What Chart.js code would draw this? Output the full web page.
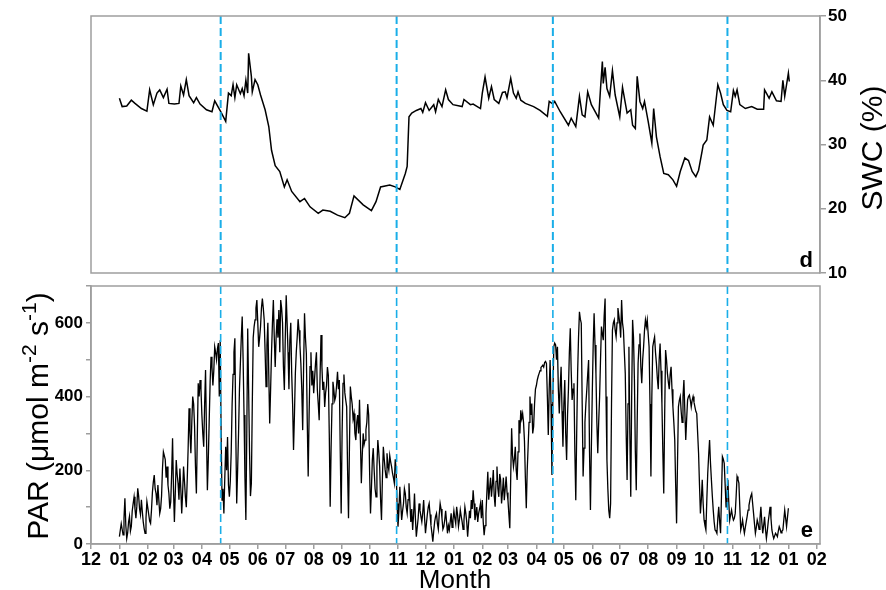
<!DOCTYPE html>
<html>
<head>
<meta charset="utf-8">
<script src="https://cdn.jsdelivr.net/npm/chart.js@4.4.0/dist/chart.umd.min.js"></script>
<style>
  html, body { margin: 0; padding: 0; background: #fff; }
  #wrap { position: relative; width: 886px; height: 590px; }
  #wrap canvas { position: absolute; left: 0; top: 0; }
</style>
</head>
<body>
<div id="wrap">
  <canvas id="swcChart" width="886" height="590"></canvas>
  <canvas id="parChart" width="886" height="590"></canvas>
</div>
<script>
// x values are days counted from 1 December of the year before the record starts

// month ticks along the shared time axis
const monthStarts = [0, 31, 62, 90, 121, 151, 182, 212, 243, 274, 304, 335, 365,
  396, 427, 455, 486, 516, 547, 577, 608, 639, 669, 700, 730, 761, 792];
const monthLabels = ['12', '01', '02', '03', '04', '05', '06', '07', '08', '09', '10', '11', '12',
  '01', '02', '03', '04', '05', '06', '07', '08', '09', '10', '11', '12', '01', '02'];

// start / end of the growing seasons (dashed markers)
const seasonDays = [141.5, 333.5, 504, 694.5];

// soil water content (%)
const swcDays = [31, 34, 39, 44, 48, 55, 61, 64, 68, 72, 75, 79, 83, 85, 91, 96, 98, 101, 104, 107,
  112, 115, 119, 126, 132, 135, 142, 147, 150, 153, 155, 157, 159, 163, 165, 167, 169, 171, 172, 175,
  176, 179, 182, 185, 190, 194, 197, 201, 206, 211, 214, 219, 228, 233, 239, 248, 253, 261, 269, 277,
  282, 287, 297, 306, 311, 316, 326, 332, 337, 343, 345, 347, 350, 355, 360, 362, 365, 369, 374, 376,
  379, 383, 387, 390, 395, 405, 407, 414, 417, 425, 427, 430, 434, 437, 440, 445, 449, 452, 454, 458,
  461, 464, 466, 469, 474, 483, 490, 498, 500, 504, 506, 512, 521, 524, 529, 533, 536, 539, 542, 546,
  554, 556, 558, 559, 561, 563, 566, 569, 572, 577, 580, 585, 589, 591, 594, 596, 599, 602, 604, 608,
  612, 614, 617, 621, 625, 630, 635, 639, 643, 648, 652, 656, 660, 663, 667, 668, 672, 675, 679, 684,
  687, 690, 694, 698, 701, 703, 705, 708, 714, 721, 727, 734, 735, 737, 740, 743, 748, 753, 755, 757,
  761, 762];
const swcValues = [37.2, 35.9, 36.0, 36.9, 36.4, 35.6, 35.2, 38.5, 36.2, 38.0, 38.5, 37.3, 38.6, 36.4, 36.3, 36.4, 39.1, 37.7, 40.1, 37.6,
  36.5, 37.3, 36.3, 35.4, 35.1, 36.8, 35.0, 33.6, 38.0, 37.6, 39.3, 37.3, 39.3, 37.9, 38.7, 37.6, 40.0, 38.0, 44.2, 40.6,
  38.2, 40.1, 39.3, 37.7, 35.4, 32.8, 29.1, 26.7, 25.8, 23.4, 24.5, 22.7, 21.1, 21.6, 20.3, 19.3, 19.8, 19.6, 19.0, 18.6,
  19.3, 22.0, 20.6, 19.7, 21.1, 23.4, 23.7, 23.4, 23.0, 25.5, 26.6, 34.3, 34.9, 35.3, 35.6, 35.0, 36.5, 35.3, 36.2, 35.1,
  37.0, 35.9, 38.5, 37.0, 36.2, 35.9, 37.0, 36.2, 36.3, 35.6, 38.0, 40.5, 37.2, 39.0, 37.0, 36.4, 38.1, 38.2, 37.3, 40.3,
  38.0, 37.2, 38.2, 36.9, 36.4, 35.9, 35.3, 34.4, 36.7, 36.3, 36.7, 35.1, 33.0, 34.1, 32.8, 37.5, 34.6, 34.3, 38.2, 36.2,
  34.1, 38.7, 42.9, 39.5, 42.0, 38.7, 37.5, 41.5, 37.7, 34.3, 38.9, 34.9, 35.4, 33.0, 32.5, 40.6, 36.7, 35.6, 36.7, 33.6,
  30.2, 35.6, 31.2, 28.1, 25.5, 25.3, 24.5, 23.5, 25.8, 27.9, 27.5, 25.8, 25.0, 26.0, 29.1, 29.9, 30.7, 34.3, 33.0, 39.3,
  38.0, 36.2, 35.3, 35.1, 38.4, 37.5, 38.5, 36.2, 35.6, 35.9, 35.5, 35.5, 38.5, 38.0, 37.2, 38.2, 36.8, 36.7, 40.0, 37.5,
  41.1, 39.8];

// photosynthetically active radiation, daily values
const parStartDay = 31;
const parStep = 1;
const parValues = [
  // first year
  20, 38, 55, 40, 25, 70, 124, 50, 15, 30, 60, 75, 35, 48, 90, 110, 128, 95, 70, 102,
  151, 130, 95, 80, 120, 88, 60, 42, 29, 70, 115, 98, 80, 62, 56, 92, 140, 168, 187, 150,
  137, 105, 160, 120, 83, 96, 130, 205, 250, 240, 230, 180, 210, 160, 137, 96, 115, 190, 287, 150,
  60, 140, 228, 190, 165, 120, 205, 150, 83, 140, 210, 170, 128, 100, 174, 260, 368, 300, 246, 330,
  400, 380, 320, 210, 137, 290, 436, 400, 445, 420, 350, 300, 264, 380, 472, 300, 146, 230, 336, 440,
  508, 480, 430, 470, 535, 520, 500, 530, 545, 400, 553, 300, 119, 150, 83, 180, 264, 200, 290, 160,
  128, 170, 250, 380, 460, 520, 558, 300, 110, 200, 300, 420, 490, 560, 617, 500, 350, 180, 65, 300,
  585, 420, 250, 130, 165, 380, 560, 590, 608, 640, 662, 600, 535, 560, 590, 640, 666, 640, 608, 520,
  427, 540, 600, 460, 327, 420, 520, 600, 662, 560, 480, 560, 610, 560,
  635, 520, 662, 640, 600, 480, 418, 560, 675, 600, 520, 420, 553, 600, 463, 380, 255, 350, 463, 520,
  560, 610, 580, 540, 490, 420, 309, 480, 626, 560, 517, 330, 183, 350, 481, 520, 430, 470, 409, 450,
  490, 520, 418, 380, 336, 460, 567, 480, 418, 440, 372, 410, 430, 480, 458, 300, 101, 260, 380, 440,
  418, 390, 400, 430, 467, 420, 445, 250, 83, 300, 436, 460, 410, 390, 372, 200, 70, 260, 427, 400,
  380, 340, 354, 300, 282, 330, 350, 300, 391, 280, 165, 240, 300, 270, 282, 310, 330, 380, 350, 200,
  83, 150, 228, 260, 200, 150, 128, 210, 282, 250, 210, 120, 65, 180, 264, 230, 201, 180, 246, 215,
  200, 240, 223, 210, 192, 180, 165, 230, 201, 110, 47, 90, 155, 110, 65, 90, 110, 150, 137, 100,
  83, 120, 165, 110, 60, 95, 38, 80, 137, 70, 20, 45, 70, 110, 92, 75, 60, 85, 119, 70,
  29, 55, 80, 100, 110, 80, 50, 30, 6, 35, 60, 75, 83, 55, 40, 80, 110, 95, 70, 40,
  47, 65, 90, 60, 29, 50,
  // second year
  38, 60, 83, 45, 65, 90, 70, 55, 101, 80, 47, 65, 92, 75, 60, 40, 65, 100, 83, 60,
  20, 55, 90, 70, 119, 95, 146, 110, 65, 80, 100, 60, 83, 95, 110, 70, 119, 60, 24, 50,
  83, 140, 196, 120, 150, 180, 128, 160, 201, 130, 101, 170, 210, 150, 128, 190, 174, 110, 140, 180,
  119, 150, 183, 140, 119, 80, 43, 180, 314, 240, 210, 230, 264, 200, 174, 250, 336, 300, 363, 340,
  354, 330, 280, 180, 97, 200, 264, 330, 400, 350, 381, 300, 318, 380, 420, 430, 445, 455, 463, 470,
  479, 482, 485, 480, 492, 495, 490, 400, 296, 420, 499, 380, 187, 400, 535, 545, 540, 500, 535, 420,
  354, 430, 481, 360, 264, 380, 445, 300, 228, 350, 420, 520, 585, 470, 391, 420, 436, 250, 119, 300,
  463, 560, 630, 610, 599, 380, 183, 260, 330, 380, 418, 460, 499, 250, 92, 260, 409, 540, 626, 540,
  463, 330, 246, 330, 400, 500, 590, 570, 553, 620, 666, 400, 228, 150, 92, 70, 110, 380, 580, 600,
  608, 580, 562, 600, 640, 620, 599, 560,
  662, 600, 580, 520, 463, 300, 174, 380, 535, 300, 128, 400, 608, 560, 445, 250, 146, 330, 490, 540,
  571, 480, 436, 500, 535, 580, 608, 590, 608, 570, 535, 380, 183, 400, 535, 550, 562, 520, 490, 450,
  420, 500, 544, 470, 381, 250, 137, 350, 526, 500, 463, 440, 420, 460, 481, 420, 372, 330, 282, 160,
  56, 220, 372, 390, 400, 360, 330, 400, 445, 360, 282, 340, 391, 400, 404, 390, 372, 390, 400, 385,
  372, 360, 354, 300, 246, 160, 83, 120, 174, 110, 65, 50, 38, 120, 192, 240, 282, 220, 174, 130,
  92, 60, 38, 35, 29, 70, 101, 60, 29, 130, 237, 230, 219, 160, 101, 140, 174, 110, 65, 80,
  92, 75, 65, 70, 83, 130, 183, 175, 165, 100, 38, 50, 65, 45, 29, 45, 60, 75, 92, 105,
  119, 130, 137, 110, 83, 55, 29, 45, 65, 55, 40, 70, 101, 60, 29, 50, 74, 40, 15, 35,
  60, 80, 101, 70, 38, 25, 15, 22, 29, 25, 20, 35, 47, 40, 30, 35, 38, 65, 92, 70,
  47, 72, 97
];

const FONT = "Arial, 'Liberation Sans', sans-serif";
const AXIS_GREY = '#9e9e9e';
const DASH_BLUE = '#1aaee8';
const X_MIN = 0, X_MAX = 795.5;

const swcPoints = swcDays.map((d, i) => ({ x: d, y: swcValues[i] }));
const parPoints = parValues.map((v, i) => ({ x: parStartDay + i * parStep, y: v }));

// frame + dashed season markers, drawn through the x scale
function panelDecor(dashWidth) {
  return {
    id: 'panelDecor',
    afterDatasetsDraw(chart) {
      const { ctx, chartArea: a, scales } = chart;
      ctx.save();
      ctx.strokeStyle = DASH_BLUE;
      ctx.lineWidth = dashWidth;
      ctx.setLineDash([8, 4]);
      seasonDays.forEach(d => {
        const px = scales.x.getPixelForValue(d);
        ctx.beginPath();
        ctx.moveTo(px, a.top);
        ctx.lineTo(px, a.bottom);
        ctx.stroke();
      });
      ctx.setLineDash([]);
      ctx.strokeStyle = AXIS_GREY;
      ctx.lineWidth = 1.5;
      ctx.strokeRect(a.left, a.top, a.right - a.left, a.bottom - a.top);
      ctx.restore();
    }
  };
}

// ---- top panel: SWC ----
new Chart(document.getElementById('swcChart'), {
  type: 'line',
  data: {
    datasets: [{
      data: swcPoints,
      borderColor: '#000',
      borderWidth: 1.5,
      pointRadius: 0,
      tension: 0
    }]
  },
  options: {
    responsive: false,
    animation: false,
    layout: { padding: { left: 91, top: 16, bottom: 317, right: 0 } },
    plugins: { legend: { display: false }, tooltip: { enabled: false } },
    scales: {
      x: { type: 'linear', display: false, min: X_MIN, max: X_MAX },
      y: {
        position: 'right',
        min: 10, max: 50,
        afterFit: s => { s.width = 66; },
        ticks: { stepSize: 10, padding: 2, color: '#000', font: { family: FONT, size: 17, weight: 'bold' } },
        grid: { drawOnChartArea: false, tickLength: 6, color: AXIS_GREY, lineWidth: 1.5 },
        border: { color: AXIS_GREY, width: 1.5 }
      }
    }
  },
  plugins: [panelDecor(2), {
    id: 'swcText',
    afterDraw(chart) {
      const ctx = chart.ctx;
      ctx.save();
      ctx.fillStyle = '#000';
      ctx.font = 'bold 22px ' + FONT;
      ctx.textAlign = 'right';
      ctx.fillText('d', 813, 267);
      ctx.translate(882, 148);
      ctx.rotate(-Math.PI / 2);
      ctx.font = '30px ' + FONT;
      ctx.textAlign = 'center';
      ctx.fillText('SWC (%)', 0, 0);
      ctx.restore();
    }
  }]
});

// ---- bottom panel: PAR ----
new Chart(document.getElementById('parChart'), {
  type: 'line',
  data: {
    datasets: [{
      data: parPoints,
      borderColor: '#000',
      borderWidth: 1.3,
      pointRadius: 0,
      tension: 0
    }]
  },
  options: {
    responsive: false,
    animation: false,
    layout: { padding: { left: 0, top: 286, bottom: 0, right: 66 } },
    plugins: { legend: { display: false }, tooltip: { enabled: false } },
    scales: {
      x: {
        type: 'linear',
        min: X_MIN, max: X_MAX,
        afterBuildTicks: s => { s.ticks = monthStarts.map(v => ({ value: v })); },
        afterFit: s => { s.height = 46; },
        ticks: {
          autoSkip: false, maxRotation: 0, padding: 0, color: '#000',
          font: { family: FONT, size: 18, weight: 'bold' },
          callback: (v, i) => monthLabels[i]
        },
        grid: { drawOnChartArea: false, tickLength: 5, color: AXIS_GREY, lineWidth: 1.5 },
        border: { color: AXIS_GREY, width: 1.5 }
      },
      y: {
        position: 'left',
        min: 0, max: 700,
        afterFit: s => { s.width = 91; },
        ticks: {
          stepSize: 100, padding: 3, color: '#000',
          font: { family: FONT, size: 17, weight: 'bold' },
          callback: v => (v % 200 === 0 ? v : '')
        },
        grid: { drawOnChartArea: false, tickLength: 5, color: AXIS_GREY, lineWidth: 1.5 },
        border: { color: AXIS_GREY, width: 1.5 }
      }
    }
  },
  plugins: [panelDecor(1.6), {
    id: 'parText',
    afterDraw(chart) {
      const ctx = chart.ctx;
      ctx.save();
      ctx.fillStyle = '#000';
      ctx.font = 'bold 22px ' + FONT;
      ctx.textAlign = 'right';
      ctx.fillText('e', 813, 537);

      ctx.font = '26px ' + FONT;
      ctx.textAlign = 'center';
      ctx.fillText('Month', 455, 588);

      // rotated y title with superscript exponents
      const big = '30px ' + FONT, small = '21px ' + FONT;
      const parts = [
        { t: 'PAR (\u03bcmol m', f: big, dy: 0 },
        { t: '-2', f: small, dy: -12 },
        { t: ' s', f: big, dy: 0 },
        { t: '-1', f: small, dy: -12 },
        { t: ')', f: big, dy: 0 }
      ];
      let total = 0;
      parts.forEach(p => { ctx.font = p.f; p.w = ctx.measureText(p.t).width; total += p.w; });
      ctx.translate(48, 416);
      ctx.rotate(-Math.PI / 2);
      ctx.textAlign = 'left';
      let pos = -total / 2;
      parts.forEach(p => {
        ctx.font = p.f;
        ctx.fillText(p.t, pos, p.dy);
        pos += p.w;
      });
      ctx.restore();
    }
  }]
});
</script>
</body>
</html>
